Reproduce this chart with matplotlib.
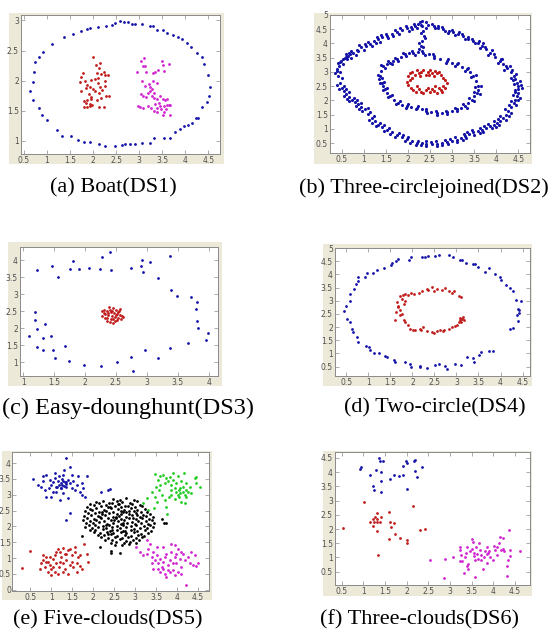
import matplotlib
matplotlib.use("Agg")
import matplotlib.pyplot as plt
from matplotlib.patches import Rectangle
from matplotlib.ticker import FuncFormatter

# ---------------- data ----------------
# DS1 Boat
ds1_outer = [(0.64, 1.82), (0.70, 1.97), (0.72, 2.15), (0.75, 2.31), (0.82, 2.40), (0.92, 2.47),
             (1.11, 2.60), (1.37, 2.73), (1.57, 2.78), (1.73, 2.83), (1.86, 2.86), (1.94, 2.87),
             (2.10, 2.89), (2.29, 2.90), (2.41, 2.93), (2.48, 2.96), (2.58, 2.99), (2.66, 2.97),
             (2.75, 2.97), (2.84, 2.94), (2.91, 2.94), (3.06, 2.94), (3.24, 2.91), (3.30, 2.91),
             (3.38, 2.84), (3.51, 2.84), (3.61, 2.79), (3.73, 2.76), (3.83, 2.73), (3.92, 2.69),
             (4.03, 2.62), (4.12, 2.55), (4.25, 2.46), (4.36, 2.39), (4.41, 2.28), (4.48, 2.10),
             (4.54, 1.89), (4.52, 1.75), (4.46, 1.64), (4.37, 1.56), (4.28, 1.38), (4.23, 1.38),
             (4.14, 1.30), (4.05, 1.27), (3.97, 1.24), (3.89, 1.19), (3.78, 1.14), (3.67, 1.04),
             (3.53, 1.04), (3.31, 1.04), (3.24, 0.96), (3.06, 0.96), (2.90, 0.94), (2.79, 0.94),
             (2.70, 0.94), (2.63, 0.93), (2.48, 0.91), (2.27, 0.91), (2.12, 0.94), (1.93, 0.98),
             (1.81, 0.98), (1.67, 1.01), (1.52, 1.08), (1.33, 1.08), (1.21, 1.18), (1.00, 1.34),
             (0.90, 1.42), (0.82, 1.54), (0.69, 1.68)]
ds1_left = [(2.00, 2.40), (2.06, 2.26), (2.16, 2.30), (2.12, 2.21), (2.09, 2.12), (2.11, 2.04),
            (2.18, 2.11), (2.23, 2.15), (2.26, 2.10), (1.78, 2.12), (1.75, 2.06), (1.71, 1.98),
            (1.83, 2.00), (1.88, 1.93), (1.96, 2.01), (2.04, 2.02), (1.94, 1.89), (2.01, 1.86),
            (2.10, 1.96), (2.16, 1.89), (2.27, 2.00), (2.27, 1.91), (2.32, 2.10), (1.85, 1.88),
            (1.91, 1.78), (1.96, 1.73), (2.05, 1.82), (2.13, 1.79), (2.20, 1.84), (2.29, 1.75),
            (2.34, 1.74), (1.80, 1.66), (1.85, 1.63), (1.93, 1.61), (1.96, 1.69), (2.09, 1.68),
            (2.17, 1.71), (1.80, 1.56), (1.87, 1.56), (1.94, 1.58), (1.98, 1.60), (2.12, 1.56),
            (2.24, 1.56), (1.73, 1.82), (1.87, 1.68)]
ds1_right = [(3.11, 2.37), (3.04, 2.32), (2.96, 2.15), (3.09, 2.24), (3.13, 2.24), (3.15, 2.15),
             (3.30, 2.12), (3.35, 2.15), (3.40, 2.18), (3.49, 2.32), (3.51, 2.26), (3.64, 2.28),
             (3.53, 2.16), (3.06, 1.99), (3.13, 1.91), (3.22, 1.95), (3.27, 1.86), (3.33, 1.80),
             (3.24, 1.82), (3.20, 1.79), (3.04, 1.78), (3.08, 1.74), (3.15, 1.73), (3.27, 1.74),
             (3.33, 1.71), (3.38, 1.69), (3.44, 1.74), (3.51, 1.69), (3.56, 1.68), (3.61, 1.70),
             (3.35, 1.61), (3.42, 1.63), (3.45, 1.57), (3.54, 1.57), (3.60, 1.60), (3.64, 1.59),
             (3.67, 1.59), (3.47, 1.52), (3.54, 1.47), (3.58, 1.53), (3.38, 1.54), (3.31, 1.50),
             (3.25, 1.54), (3.18, 1.58), (3.09, 1.54), (3.01, 1.56), (2.98, 1.57), (3.51, 1.43),
             (3.67, 1.43), (3.38, 1.47), (3.24, 1.90), (3.30, 1.99), (3.38, 1.96)]

# DS2 Three-circlejoined
ds2_outer = [(0.42, 2.86), (0.36, 2.95), (0.50, 2.78), (0.45, 3.21), (0.40, 3.10), (0.53, 3.28),
             (0.54, 3.45), (0.48, 3.40), (0.60, 3.52), (0.65, 3.56), (0.60, 3.62), (0.72, 3.48),
             (0.76, 3.68), (0.72, 3.75), (0.82, 3.60), (0.95, 3.86), (0.90, 3.93), (1.00, 3.78),
             (1.14, 3.98), (1.10, 4.06), (1.20, 3.92), (1.33, 4.15), (1.30, 4.22), (1.38, 4.06),
             (1.52, 4.27), (1.50, 4.34), (1.56, 4.18), (1.75, 4.41), (1.72, 4.48), (1.80, 4.33),
             (1.97, 4.53), (1.95, 4.60), (2.02, 4.45), (2.16, 4.62), (2.14, 4.68), (2.20, 4.55),
             (2.27, 4.74), (2.33, 4.80), (2.30, 4.66), (2.58, 4.62), (2.55, 4.70), (2.62, 4.55),
             (2.80, 4.51), (2.78, 4.58), (2.84, 4.44), (3.03, 4.39), (3.00, 4.47), (3.06, 4.30),
             (3.25, 4.25), (3.23, 4.33), (3.28, 4.16), (3.48, 4.09), (3.46, 4.17), (3.52, 4.00),
             (3.67, 3.92), (3.70, 4.00), (3.63, 3.84), (3.86, 3.68), (3.90, 3.76), (3.82, 3.60),
             (4.08, 3.39), (4.13, 3.46), (4.03, 3.32), (4.24, 3.15), (4.30, 3.22), (4.18, 3.08),
             (4.39, 2.86), (4.45, 2.92), (4.32, 2.80), (4.46, 2.62), (4.53, 2.68), (4.40, 2.58),
             (4.50, 2.39), (4.57, 2.42), (4.42, 2.36), (4.46, 2.15), (4.53, 2.10), (4.38, 2.20),
             (4.39, 1.91), (4.45, 1.85), (4.32, 1.96), (4.27, 1.62), (4.33, 1.56), (4.20, 1.68),
             (4.16, 1.38), (4.22, 1.32), (4.08, 1.45), (4.01, 1.21), (4.06, 1.14), (3.94, 1.28),
             (3.86, 1.09), (3.90, 1.02), (3.80, 1.16), (3.67, 0.97), (3.70, 0.90), (3.62, 1.04),
             (3.48, 0.88), (3.50, 0.80), (3.44, 0.95), (3.29, 0.74), (3.31, 0.66), (3.26, 0.82),
             (3.10, 0.62), (3.12, 0.55), (3.07, 0.70), (2.88, 0.52), (2.90, 0.45), (2.85, 0.60),
             (2.65, 0.48), (2.66, 0.41), (2.63, 0.56), (2.42, 0.48), (2.42, 0.41), (2.40, 0.56),
             (2.20, 0.50), (2.18, 0.43), (2.22, 0.58), (1.97, 0.64), (1.94, 0.57), (2.00, 0.72),
             (1.75, 0.79), (1.71, 0.72), (1.79, 0.87), (1.52, 0.97), (1.47, 0.91), (1.57, 1.04),
             (1.33, 1.15), (1.28, 1.09), (1.38, 1.22), (1.18, 1.38), (1.12, 1.32), (1.24, 1.45),
             (1.03, 1.68), (0.97, 1.62), (1.09, 1.74), (0.88, 1.86), (0.82, 1.80), (0.94, 1.92),
             (0.73, 2.03), (0.67, 1.97), (0.79, 2.10), (0.61, 2.21), (0.55, 2.16), (0.67, 2.28),
             (0.50, 2.44), (0.44, 2.40), (0.56, 2.50),
             (0.40, 3.03), (0.47, 3.35), (0.58, 3.50), (0.70, 3.62), (0.85, 3.77), (1.05, 3.92),
             (1.24, 4.07), (1.42, 4.21), (1.63, 4.34), (1.86, 4.47), (2.07, 4.57), (2.22, 4.70),
             (2.45, 4.66), (2.69, 4.56), (2.92, 4.45), (3.14, 4.32), (3.37, 4.17), (3.58, 4.01),
             (3.77, 3.80), (3.97, 3.54), (4.16, 3.27), (4.32, 3.01), (4.43, 2.74), (4.48, 2.50),
             (4.48, 2.27), (4.43, 2.03), (4.33, 1.77), (4.22, 1.50), (4.09, 1.29), (3.94, 1.15),
             (3.77, 1.03), (3.58, 0.92), (3.39, 0.81), (3.20, 0.68), (2.99, 0.57), (2.76, 0.50),
             (2.54, 0.47), (2.31, 0.49), (2.09, 0.57), (1.86, 0.71), (1.63, 0.88), (1.42, 1.06),
             (1.25, 1.27), (1.10, 1.53), (0.95, 1.77), (0.80, 1.95), (0.67, 2.12), (0.55, 2.32),
             (0.46, 2.62),
             (0.46, 3.00), (0.42, 3.30), (0.63, 3.44), (0.66, 3.68), (0.88, 3.72), (1.02, 3.99),
             (1.27, 4.00), (1.40, 4.28), (1.67, 4.27), (1.83, 4.54), (2.10, 4.50), (2.40, 4.75),
             (2.68, 4.63), (2.90, 4.38), (3.16, 4.40), (3.35, 4.24), (3.60, 4.10), (3.74, 3.87),
             (3.95, 3.62), (4.10, 3.47), (4.22, 3.22), (4.36, 3.06), (4.38, 2.72), (4.55, 2.55),
             (4.42, 2.30), (4.50, 2.00), (4.28, 1.82), (4.29, 1.45), (4.04, 1.34), (3.99, 1.08),
             (3.72, 1.10), (3.62, 0.86), (3.34, 0.88), (3.25, 0.61), (2.95, 0.64), (2.78, 0.43),
             (2.52, 0.55), (2.30, 0.42), (2.05, 0.50), (1.90, 0.78), (1.60, 0.82), (1.46, 1.12),
             (1.20, 1.22), (1.15, 1.60), (0.90, 1.70), (0.85, 2.02), (0.62, 2.05), (0.60, 2.40),
             (0.40, 2.55)]
ds2_bridge = [(2.33, 4.62), (2.35, 4.45), (2.36, 4.27), (2.31, 4.09), (2.29, 3.92), (2.26, 3.80),
              (2.40, 4.55), (2.30, 4.35), (2.38, 4.18), (2.25, 4.00), (2.34, 3.86)]
ds2_inner = [(1.37, 2.86), (1.32, 2.90), (1.42, 2.80), (1.44, 3.21), (1.39, 3.25), (1.49, 3.15),
             (1.59, 3.33), (1.55, 3.38), (1.63, 3.27), (1.75, 3.45), (1.72, 3.50), (1.78, 3.39),
             (1.93, 3.62), (1.90, 3.67), (1.96, 3.55), (2.12, 3.68), (2.10, 3.74), (2.15, 3.61),
             (2.35, 3.68), (2.33, 3.74), (2.38, 3.61), (2.58, 3.56), (2.57, 3.62), (2.60, 3.49),
             (2.88, 3.39), (2.90, 3.45), (2.86, 3.32), (3.10, 3.27), (3.13, 3.33), (3.07, 3.20),
             (3.33, 3.09), (3.37, 3.14), (3.28, 3.03), (3.48, 2.86), (3.54, 2.90), (3.42, 2.82),
             (3.59, 2.50), (3.65, 2.52), (3.52, 2.48), (3.56, 2.27), (3.62, 2.24), (3.49, 2.30),
             (3.44, 2.03), (3.49, 1.98), (3.38, 2.08), (3.29, 1.80), (3.33, 1.74), (3.24, 1.86),
             (3.10, 1.68), (3.12, 1.62), (3.07, 1.74), (2.88, 1.58), (2.89, 1.52), (2.86, 1.64),
             (2.65, 1.56), (2.66, 1.50), (2.64, 1.62), (2.42, 1.62), (2.43, 1.56), (2.41, 1.68),
             (2.20, 1.74), (2.19, 1.68), (2.22, 1.80), (1.97, 1.80), (1.95, 1.74), (2.00, 1.86),
             (1.78, 1.91), (1.74, 1.86), (1.82, 1.97), (1.59, 2.15), (1.54, 2.11), (1.64, 2.20),
             (1.48, 2.39), (1.43, 2.36), (1.53, 2.43), (1.41, 2.62), (1.36, 2.60), (1.46, 2.65),
             (1.40, 3.04), (1.52, 3.27), (1.67, 3.39), (1.84, 3.53), (2.02, 3.66), (2.24, 3.69),
             (2.47, 3.62), (2.73, 3.47), (2.99, 3.33), (3.22, 3.18), (3.41, 2.98), (3.54, 2.68),
             (3.58, 2.38), (3.50, 2.15), (3.37, 1.91), (3.20, 1.74), (2.99, 1.63), (2.76, 1.57),
             (2.53, 1.59), (2.31, 1.68), (2.08, 1.77), (1.87, 1.85), (1.68, 2.03), (1.53, 2.27),
             (1.44, 2.50), (1.34, 2.74)]
ds2_core = [(2.00, 2.85), (2.05, 2.95), (2.10, 3.00), (2.15, 2.90), (2.20, 3.05), (2.25, 2.95),
            (2.30, 3.00), (2.35, 3.08), (2.40, 2.90), (2.45, 3.00), (2.50, 3.05), (2.55, 2.95),
            (2.60, 2.85), (2.65, 2.95), (2.70, 3.00), (2.75, 2.90), (2.80, 2.80), (2.85, 2.70),
            (2.10, 2.80), (2.28, 2.85), (2.48, 2.88), (2.62, 3.02), (1.97, 2.65), (2.00, 2.55),
            (2.05, 2.70), (2.08, 2.45), (2.12, 2.35), (2.18, 2.28), (2.25, 2.40), (2.30, 2.30),
            (2.35, 2.25), (2.40, 2.35), (2.50, 2.28), (2.55, 2.40), (2.60, 2.32), (2.65, 2.25),
            (2.70, 2.45), (2.75, 2.38), (2.80, 2.50), (2.85, 2.45), (2.88, 2.60), (2.20, 2.50),
            (2.45, 2.45), (2.62, 2.50), (2.78, 2.28)]

# DS3 Easy-dounghunt
ds3_ring = [(1.23, 3.71), (1.46, 3.83), (1.56, 3.52), (1.80, 3.99), (1.76, 3.75), (1.91, 3.74),
            (2.06, 3.77), (2.25, 3.75), (2.27, 4.09), (2.40, 4.23), (2.42, 3.71), (2.75, 3.76),
            (2.90, 3.84), (2.92, 4.00), (2.94, 3.65), (3.05, 3.96), (3.18, 3.49), (3.38, 4.14),
            (3.39, 3.13), (3.48, 2.96), (3.72, 2.91), (3.81, 2.76), (3.80, 2.57), (3.81, 2.23),
            (3.83, 2.02), (3.99, 1.87), (3.96, 1.67), (3.66, 1.56), (3.38, 1.43), (3.18, 1.13),
            (2.97, 1.35), (2.74, 1.15), (2.77, 0.76), (2.52, 1.01), (2.26, 0.90), (1.99, 0.91),
            (1.74, 1.04), (1.68, 1.48), (1.51, 1.13), (1.48, 1.35), (1.32, 1.37), (1.23, 1.45),
            (1.45, 1.77), (1.32, 1.73), (1.23, 1.97), (1.36, 2.14), (1.20, 2.24), (1.19, 2.47),
            (1.09, 1.77)]
ds3_core = [(2.30, 2.55), (2.35, 2.50), (2.40, 2.55), (2.45, 2.60), (2.50, 2.55), (2.55, 2.50),
            (2.33, 2.42), (2.38, 2.45), (2.42, 2.48), (2.47, 2.45), (2.52, 2.42), (2.57, 2.40),
            (2.60, 2.35), (2.28, 2.35), (2.32, 2.30), (2.37, 2.38), (2.44, 2.35), (2.49, 2.32),
            (2.54, 2.30), (2.58, 2.28), (2.35, 2.22), (2.40, 2.18), (2.45, 2.15), (2.48, 2.22),
            (2.52, 2.25), (2.42, 2.28), (2.30, 2.45), (2.62, 2.32), (2.56, 2.58), (2.44, 2.52),
            (2.39, 2.62), (2.50, 2.38), (2.46, 2.28), (2.36, 2.30), (2.53, 2.47), (2.27, 2.50)]

# DS4 Two-circle
ds4_outer = [(0.45, 2.59), (0.49, 2.81), (0.57, 3.00), (0.58, 3.25), (0.68, 3.43), (0.71, 3.63),
             (0.76, 3.75), (0.77, 3.90), (0.92, 3.88), (0.96, 4.05), (1.11, 4.06), (1.20, 4.16),
             (1.36, 4.25), (1.52, 4.35), (1.53, 4.44), (1.63, 4.50), (1.66, 4.59), (1.93, 4.53),
             (1.96, 4.65), (2.21, 4.65), (2.29, 4.65), (2.35, 4.71), (2.52, 4.71), (2.61, 4.74),
             (2.82, 4.75), (2.93, 4.65), (3.08, 4.56), (3.12, 4.53), (3.22, 4.44), (3.37, 4.38),
             (3.42, 4.40), (3.50, 4.29), (3.65, 4.10), (3.73, 4.23), (3.88, 4.03), (3.99, 3.88),
             (4.01, 3.80), (4.13, 3.60), (4.22, 3.48), (4.28, 3.38), (4.36, 3.03), (4.47, 3.00),
             (4.39, 2.69), (4.42, 2.63), (4.43, 2.55), (4.37, 2.44), (4.39, 2.23), (4.28, 1.98),
             (4.22, 1.91), (0.52, 2.30), (0.57, 2.19), (0.62, 1.94), (0.64, 1.81), (0.73, 1.63),
             (0.77, 1.44), (0.95, 1.28), (1.02, 1.25), (1.04, 1.13), (1.13, 1.03), (1.25, 1.03),
             (1.38, 0.90), (1.42, 0.85), (1.59, 0.75), (1.61, 0.69), (1.83, 0.69), (1.95, 0.60),
             (1.96, 0.50), (2.16, 0.53), (2.17, 0.48), (2.33, 0.44), (2.52, 0.56), (2.61, 0.60),
             (2.74, 0.53), (2.78, 0.40), (2.97, 0.60), (3.10, 0.56), (3.25, 0.85), (3.37, 0.81),
             (3.40, 0.69), (3.52, 0.94), (3.55, 1.06), (3.73, 1.09), (3.83, 1.10)]
ds4_inner = [(1.72, 3.19), (1.78, 3.23), (1.83, 3.25), (1.89, 3.23), (1.96, 3.28), (2.04, 3.25),
             (2.14, 3.28), (2.21, 3.38), (2.33, 3.44), (2.36, 3.40), (2.44, 3.53), (2.48, 3.38),
             (2.55, 3.44), (2.67, 3.40), (2.74, 3.50), (2.84, 3.35), (2.89, 3.30), (2.95, 3.35),
             (3.05, 3.19), (3.10, 3.15), (1.64, 2.94), (1.66, 2.81), (1.68, 2.75), (1.72, 2.65),
             (1.63, 2.56), (1.76, 2.50), (1.72, 2.44), (1.61, 2.28), (1.80, 2.88), (1.83, 3.00),
             (1.76, 3.06), (1.80, 2.25), (1.83, 2.19), (1.89, 2.06), (1.95, 1.94), (2.01, 1.90),
             (2.06, 1.88), (2.16, 1.94), (2.19, 1.88), (2.25, 2.00), (2.33, 1.85), (2.44, 1.81),
             (2.48, 1.78), (2.55, 1.84), (2.63, 1.88), (2.69, 1.85), (2.72, 1.90), (2.82, 1.94),
             (2.89, 2.00), (2.97, 2.03), (3.01, 2.06), (3.05, 2.19), (3.08, 2.25), (3.12, 2.31),
             (3.14, 2.38), (3.10, 2.19), (3.07, 2.34), (3.16, 2.28)]

# DS5 Five-clouds
ds5_blue = [(0.56, 3.49), (0.68, 3.31), (0.79, 3.58), (0.80, 3.42), (0.88, 3.63), (0.96, 3.47),
            (1.00, 3.31), (1.04, 3.39), (1.08, 3.52), (1.12, 3.26), (1.16, 3.42), (1.18, 3.58),
            (1.22, 3.37), (1.24, 3.21), (1.26, 3.49), (1.28, 3.63), (1.32, 3.39), (1.34, 3.26),
            (1.36, 4.16), (1.40, 3.47), (1.44, 3.37), (1.45, 3.89), (1.48, 3.63), (1.50, 3.21),
            (1.52, 3.42), (1.56, 3.15), (1.60, 3.31), (1.64, 3.58), (1.68, 3.10), (1.72, 3.37),
            (1.76, 3.21), (1.85, 3.58), (1.80, 2.94), (0.87, 2.94), (0.98, 2.94), (1.20, 2.84),
            (1.40, 2.89), (1.45, 2.43), (1.34, 2.20), (1.04, 3.10), (0.95, 3.21), (1.12, 3.10),
            (1.28, 3.05), (1.72, 3.00), (0.76, 3.26), (0.84, 3.15), (1.08, 3.68), (1.30, 3.79),
            (1.18, 3.30), (1.26, 3.32), (1.30, 3.28), (1.22, 3.22), (1.36, 3.34), (1.14, 3.24),
            (1.28, 3.44), (1.34, 3.40), (2.19, 3.10), (2.39, 3.17), (2.35, 3.16)]
ds5_green = [(3.47, 3.66), (3.55, 3.47), (3.60, 3.60), (3.66, 3.63), (3.70, 3.37), (3.74, 3.52),
             (3.78, 3.42), (3.82, 3.56), (3.86, 3.31), (3.90, 3.47), (3.94, 3.21), (3.98, 3.37),
             (4.02, 3.58), (4.05, 3.15), (4.06, 3.05), (4.10, 3.42), (4.13, 3.26), (4.14, 3.10),
             (4.16, 3.68), (4.18, 2.99), (4.21, 3.37), (4.22, 3.15), (4.26, 3.10), (4.30, 3.26),
             (4.34, 3.05), (4.42, 3.52), (4.46, 3.37), (4.54, 3.26), (3.27, 2.89), (3.39, 3.10),
             (3.47, 2.94), (3.51, 2.78), (3.57, 3.15), (3.65, 2.99), (3.70, 2.84), (3.74, 2.62),
             (3.76, 2.39), (3.81, 2.94), (3.86, 2.99), (3.94, 2.86), (4.02, 2.99), (4.10, 2.78),
             (4.18, 2.75), (3.19, 2.75), (3.44, 2.57), (3.31, 2.52), (3.90, 3.68), (3.59, 3.31),
             (3.49, 3.26), (3.97, 3.10), (4.08, 3.21), (3.86, 3.15), (4.22, 2.94), (4.05, 2.92),
             (4.46, 3.56)]
ds5_red = [(0.29, 0.70), (0.50, 1.22), (0.72, 0.67), (0.76, 0.83), (0.80, 0.93), (0.84, 0.72),
           (0.88, 1.04), (0.92, 0.88), (0.92, 0.56), (0.96, 0.77), (1.00, 0.67), (1.04, 0.98),
           (1.08, 1.09), (1.12, 0.83), (1.16, 0.51), (1.18, 0.72), (1.20, 0.88), (1.24, 1.04),
           (1.28, 0.83), (1.32, 0.67), (1.36, 0.93), (1.40, 0.51), (1.44, 0.77), (1.48, 1.09),
           (1.50, 0.88), (1.52, 0.72), (1.56, 1.20), (1.60, 0.83), (1.64, 1.04), (1.68, 0.74),
           (1.74, 0.67), (1.77, 1.46), (1.85, 1.14), (1.88, 0.88), (1.16, 1.30), (1.28, 1.33),
           (1.40, 1.25), (1.20, 1.20), (1.12, 1.20), (0.96, 1.04), (0.87, 0.88), (0.79, 1.09),
           (1.00, 0.46), (1.08, 0.56), (1.28, 0.56), (1.36, 1.14), (1.45, 1.30), (1.56, 1.35),
           (1.32, 1.14), (1.04, 0.72), (1.60, 0.56), (1.68, 1.09)]
ds5_magenta = [(3.03, 1.35), (3.11, 1.20), (3.19, 1.09), (3.27, 1.14), (3.31, 1.30), (3.35, 1.46),
               (3.39, 1.04), (3.43, 1.20), (3.47, 0.93), (3.51, 1.09), (3.55, 0.83), (3.59, 0.98),
               (3.63, 0.72), (3.67, 0.88), (3.70, 1.04), (3.74, 1.14), (3.78, 0.77), (3.82, 0.93),
               (3.86, 1.20), (3.90, 0.61), (3.94, 1.04), (3.98, 0.83), (4.02, 1.30), (4.06, 0.98),
               (4.10, 0.72), (4.14, 1.14), (4.18, 0.93), (4.26, 1.04), (4.30, 0.83), (4.34, 1.20),
               (4.38, 0.77), (4.46, 0.74), (4.50, 0.83), (4.42, 1.09), (3.27, 1.57), (3.43, 0.67),
               (3.59, 0.56), (3.70, 0.49), (3.74, 0.40), (3.82, 0.56), (3.94, 0.46), (4.02, 0.56),
               (4.10, 0.51), (4.22, 0.14), (3.39, 0.83), (3.51, 1.35), (3.67, 1.35), (3.86, 1.46),
               (3.94, 1.41), (3.78, 0.61), (3.90, 0.83), (3.67, 0.67), (3.55, 0.67), (3.98, 1.14),
               (4.10, 1.20)]
ds5_black = [(2.48, 2.88), (2.63, 2.83), (2.77, 2.90), (2.96, 2.84), (2.06, 2.76), (2.24, 2.80),
             (2.38, 2.75), (2.57, 2.81), (2.69, 2.77), (2.87, 2.74), (3.04, 2.79), (1.93, 2.70),
             (2.13, 2.73), (2.31, 2.68), (2.44, 2.74), (2.61, 2.70), (2.76, 2.66), (2.93, 2.72),
             (3.11, 2.69), (1.84, 2.62), (2.01, 2.67), (2.19, 2.63), (2.36, 2.60), (2.51, 2.66),
             (2.67, 2.61), (2.83, 2.64), (2.99, 2.60), (3.16, 2.63), (1.91, 2.55), (2.07, 2.57),
             (2.26, 2.53), (2.41, 2.59), (2.59, 2.55), (2.73, 2.52), (2.91, 2.57), (3.05, 2.53),
             (3.23, 2.56), (1.79, 2.48), (1.97, 2.51), (2.13, 2.47), (2.31, 2.50), (2.47, 2.46),
             (2.65, 2.49), (2.79, 2.45), (2.97, 2.50), (3.13, 2.47), (3.29, 2.44), (1.87, 2.41),
             (2.05, 2.43), (2.21, 2.39), (2.37, 2.42), (2.56, 2.40), (2.71, 2.44), (2.85, 2.38),
             (3.03, 2.41), (3.19, 2.37), (3.36, 2.40), (1.77, 2.34), (1.94, 2.36), (2.11, 2.32),
             (2.27, 2.35), (2.46, 2.31), (2.61, 2.34), (2.79, 2.30), (2.93, 2.35), (3.11, 2.31),
             (3.25, 2.33), (3.43, 2.30), (1.86, 2.27), (2.01, 2.24), (2.19, 2.28), (2.34, 2.25),
             (2.53, 2.27), (2.67, 2.23), (2.85, 2.26), (3.01, 2.22), (3.15, 2.27), (3.33, 2.24),
             (1.75, 2.20), (1.93, 2.17), (2.07, 2.21), (2.26, 2.18), (2.41, 2.20), (2.59, 2.16),
             (2.74, 2.19), (2.93, 2.15), (3.07, 2.18), (3.25, 2.16), (3.39, 2.19), (1.83, 2.12),
             (1.99, 2.10), (2.14, 2.13), (2.33, 2.09), (2.47, 2.12), (2.66, 2.08), (2.81, 2.11),
             (2.99, 2.07), (3.13, 2.10), (3.31, 2.08), (3.45, 2.11), (1.89, 2.04), (2.04, 2.06),
             (2.23, 2.02), (2.37, 2.05), (2.56, 2.01), (2.71, 2.04), (2.89, 2.00), (3.03, 2.03),
             (3.21, 2.01), (3.35, 2.04), (1.79, 1.98), (1.97, 1.95), (2.11, 1.99), (2.31, 1.96),
             (2.45, 1.98), (2.63, 1.94), (2.77, 1.97), (2.96, 1.93), (3.11, 1.96), (3.29, 1.94),
             (3.43, 1.97), (1.91, 1.90), (2.05, 1.88), (2.23, 1.91), (2.39, 1.87), (2.57, 1.90),
             (2.71, 1.86), (2.89, 1.89), (3.04, 1.85), (3.23, 1.88), (3.37, 1.86), (2.01, 1.82),
             (2.15, 1.80), (2.33, 1.83), (2.47, 1.79), (2.65, 1.82), (2.79, 1.78), (2.97, 1.81),
             (3.13, 1.77), (3.31, 1.80), (2.11, 1.74), (2.25, 1.72), (2.43, 1.75), (2.57, 1.71),
             (2.75, 1.74), (2.89, 1.70), (3.07, 1.73), (3.21, 1.71), (2.19, 1.66), (2.36, 1.64),
             (2.51, 1.67), (2.69, 1.63), (2.83, 1.66), (3.01, 1.62), (3.15, 1.65), (2.29, 1.58),
             (2.44, 1.56), (2.63, 1.59), (2.77, 1.55), (2.95, 1.58), (3.09, 1.56), (2.41, 1.49),
             (2.55, 1.51), (2.73, 1.47), (2.87, 1.50), (3.03, 1.48), (2.51, 1.42), (2.69, 1.40),
             (2.84, 1.43), (2.40, 2.60), (2.55, 2.30), (2.70, 2.10), (2.20, 2.45), (2.85, 2.50),
             (2.45, 1.90), (2.60, 2.70), (2.30, 2.05), (2.95, 2.25), (2.15, 2.30), (2.75, 1.85),
             (2.50, 2.20), (2.65, 2.40), (2.35, 1.75), (3.05, 2.35), (2.43, 1.16), (2.43, 1.23),
             (2.63, 1.16), (2.15, 1.35), (1.72, 1.69), (3.63, 2.22), (3.74, 2.10), (3.68, 2.10)]

# DS6 Three-clouds
ds6_blue = [(0.92, 4.12), (0.96, 4.17), (1.15, 3.89), (1.22, 3.50), (1.25, 3.38), (1.29, 4.09),
            (1.37, 4.50), (1.38, 4.38), (1.45, 4.38), (1.42, 3.99), (1.42, 3.70), (1.42, 3.32),
            (1.63, 3.77), (1.72, 3.89), (1.83, 3.88), (1.91, 3.89), (1.92, 4.23), (1.98, 4.38),
            (2.02, 4.32), (2.00, 3.42), (2.18, 4.41), (2.19, 4.44), (2.19, 4.05), (2.25, 3.82),
            (2.35, 4.17)]
ds6_red = [(0.54, 2.02), (1.02, 2.94), (1.31, 2.56), (1.27, 2.41), (1.23, 2.36), (1.32, 2.37),
           (1.25, 2.26), (1.31, 2.26), (1.38, 2.26), (1.15, 2.23), (1.22, 2.11), (1.32, 1.94),
           (1.42, 2.44), (1.60, 2.59), (1.63, 2.26), (1.65, 2.06), (1.72, 2.21), (1.73, 1.83),
           (1.60, 1.65), (1.85, 1.70), (2.00, 1.62), (2.00, 1.50), (2.15, 2.82), (2.32, 1.97),
           (2.42, 2.01), (1.35, 1.09)]
ds6_magenta = [(2.54, 0.91), (2.86, 0.26), (2.90, 0.94), (3.08, 1.03), (3.23, 0.89), (3.25, 1.09),
               (3.23, 1.26), (3.23, 1.36), (3.29, 0.89), (3.35, 1.03), (3.38, 1.15), (3.40, 1.38),
               (3.40, 0.71), (3.41, 0.77), (3.42, 0.58), (3.32, 0.46), (3.46, 1.21), (3.50, 1.29),
               (3.52, 1.64), (3.54, 1.54), (3.55, 1.17), (3.56, 1.05), (3.58, 0.91), (3.58, 0.32),
               (3.60, 1.36), (3.62, 1.12), (3.65, 0.94), (3.68, 1.52), (3.69, 1.26), (3.72, 1.09),
               (3.73, 0.91), (3.77, 0.58), (3.78, 1.01), (3.81, 1.21), (3.85, 1.36), (3.85, 0.79),
               (3.86, 1.12), (3.88, 1.15), (3.91, 1.21), (4.00, 0.91), (4.02, 1.41), (4.04, 1.26),
               (4.09, 1.38), (4.14, 1.50), (4.15, 1.71), (4.19, 1.26), (4.23, 1.29), (4.25, 1.21),
               (4.31, 0.70), (4.32, 0.35), (4.35, 0.91), (4.37, 1.97), (4.38, 1.05), (4.38, 1.26),
               (4.63, 1.24), (4.22, 1.68), (3.92, 1.03), (4.08, 1.09)]

captions = ["(a) Boat(DS1)", "(b) Three-circlejoined(DS2)", "(c) Easy-dounghunt(DS3)",
            "(d) Two-circle(DS4)", "(e) Five-clouds(DS5)", "(f) Three-clouds(DS6)"]

BLUE, RED, MAG, GREEN, BLACK = "#1414a8", "#c01c1c", "#d024d0", "#22cc22", "#000000"

W, H = 557, 632
fig = plt.figure(figsize=(W / 100, H / 100), dpi=100)
fig.patch.set_facecolor("white")


def box(l, t, r, b):
    return [l / W, 1 - b / H, (r - l) / W, (b - t) / H]


def panel(ax_px, frame_px, xlim, ylim, xticks, yticks, series, size=4, ypad=1.5):
    fl, ft, fr, fb = frame_px
    # grey window background behind the axes (drawn under them)
    fig.patches.append(Rectangle((fl / W, 1 - fb / H), (fr - fl) / W, (fb - ft) / H,
                                 transform=fig.transFigure, facecolor="#ece9d8",
                                 edgecolor="none", zorder=-5))
    ax = fig.add_axes(box(*ax_px))
    ax.set_facecolor("white")
    for pts, col in series:
        xs, ys = zip(*pts)
        ax.scatter(xs, ys, s=size, c=col, marker="o", linewidths=0)
    ax.set_xlim(*xlim)
    ax.set_ylim(*ylim)
    ax.set_xticks(xticks)
    ax.set_yticks(yticks)
    fmt = FuncFormatter(lambda v, p: "%g" % v)
    ax.xaxis.set_major_formatter(fmt)
    ax.yaxis.set_major_formatter(fmt)
    ax.tick_params(direction="in", length=3, width=0.5, labelsize=5.5, colors="#8a8a8a",
                   labelcolor="#505050", pad=1.5, top=True, right=True)
    ax.tick_params(axis="y", pad=ypad)
    for sp in ax.spines.values():
        sp.set_color("#8a8a8a")
        sp.set_linewidth(0.7)
    return ax


def frange(a, b, step):
    out = []
    v = a
    while v <= b + 1e-9:
        out.append(round(v, 2))
        v += step
    return out


half = frange(0.5, 4.5, 0.5)

panel((21, 15, 220, 154), (9, 13, 224, 164), (0.44, 4.75), (0.78, 3.09),
      half, frange(1, 3, 0.5),
      [(ds1_outer, BLUE), (ds1_left, RED), (ds1_right, MAG)])
panel((330, 15, 530, 153), (314, 13, 532, 164), (0.24, 4.76), (0.15, 5.0),
      half, frange(0.5, 5, 0.5),
      [(ds2_outer, BLUE), (ds2_bridge, BLUE), (ds2_inner, BLUE), (ds2_core, RED)], size=5)
panel((20, 247, 218, 376), (8, 242, 222, 386), (0.95, 4.15), (0.6, 4.39),
      frange(1, 4, 0.5), frange(1, 4, 0.5),
      [(ds3_ring, BLUE), (ds3_core, RED)])
panel((335, 248, 530, 376), (323, 244, 532, 386), (0.24, 4.67), (0.14, 5.0),
      half, frange(0.5, 5, 0.5),
      [(ds4_outer, BLUE), (ds4_inner, RED)])
panel((12, 452, 209, 591), (2, 451, 212, 600), (0.06, 4.76), (-0.04, 4.35),
      half, frange(0, 4, 0.5),
      [(ds5_blue, BLUE), (ds5_green, GREEN), (ds5_red, RED), (ds5_magenta, MAG), (ds5_black, BLACK)],
      ypad=0.8)
panel((335, 452, 530, 585), (323, 451, 532, 596), (0.35, 4.85), (0.03, 4.71),
      half, frange(0.5, 4.5, 0.5),
      [(ds6_blue, BLUE), (ds6_red, RED), (ds6_magenta, MAG)])

serif = ["Liberation Serif", "DejaVu Serif"]
cap_pos = [(113, 188, 16), (424, 188, 16), (128, 408, 17.5),
           (435, 408, 16), (108, 620, 16), (420, 620, 16)]
for text, (cx, cy, fs) in zip(captions, cap_pos):
    fig.text(cx / W, 1 - cy / H, text, ha="center", va="center", fontsize=fs,
             family=serif, color="black")

fig.savefig("out.png", dpi=100)
